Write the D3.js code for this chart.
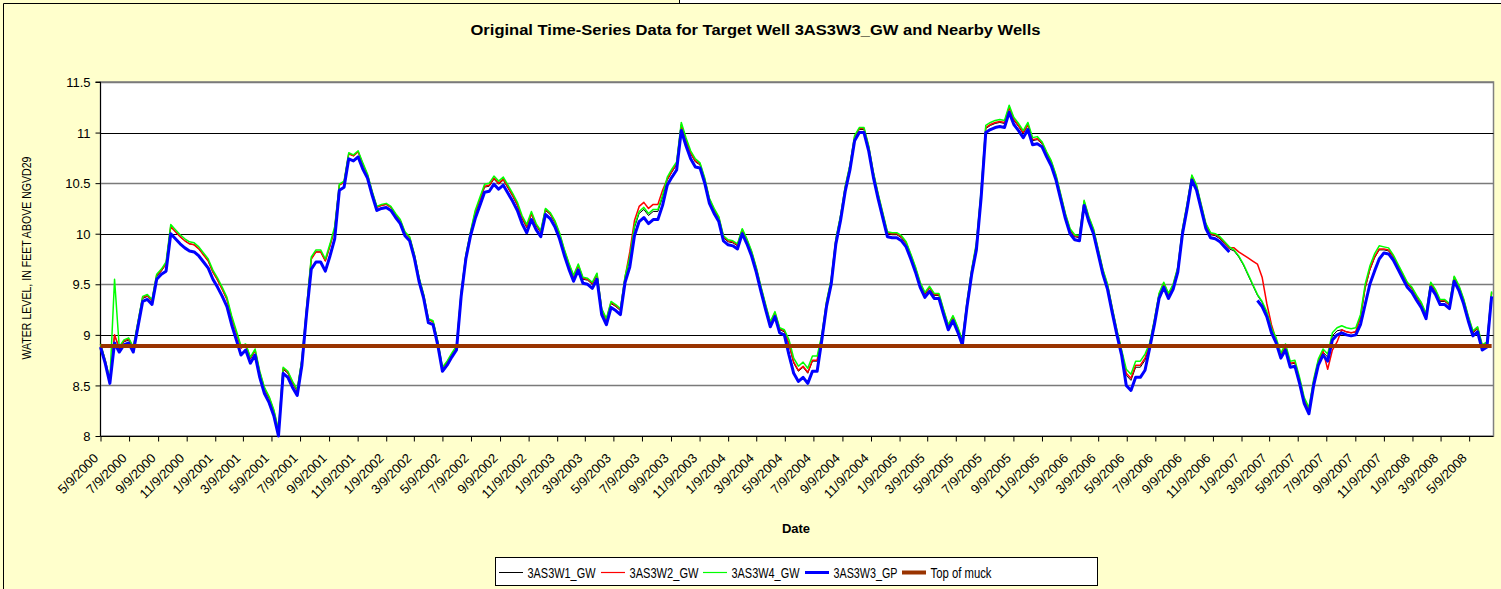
<!DOCTYPE html>
<html>
<head>
<meta charset="utf-8">
<script src="https://cdn.jsdelivr.net/npm/d3@7"></script>
<style>
  body { margin: 0; background: #ffffff; }
  svg { display: block; }
  text { font-family: Arial, "Liberation Sans", sans-serif; fill: #000; }
</style>
</head>
<body>
<svg id="chart" width="1501" height="589"></svg>
<script>
// Daily well records, sampled every 10 days from the first date
const sampleStart = "2000-05-09";
const sampleStepDays = 10;
const axisStart = "2000-05-09";
const axisEnd = "2008-06-30";

const chartTitle = "Original Time-Series Data for Target Well 3AS3W3_GW and Nearby Wells";
const xTitle = "Date";
const yTitle = "WATER LEVEL, IN FEET ABOVE NGVD29";

const tickLabels = [
  "5/9/2000","7/9/2000","9/9/2000","11/9/2000","1/9/2001","3/9/2001","5/9/2001","7/9/2001",
  "9/9/2001","11/9/2001","1/9/2002","3/9/2002","5/9/2002","7/9/2002","9/9/2002","11/9/2002",
  "1/9/2003","3/9/2003","5/9/2003","7/9/2003","9/9/2003","11/9/2003","1/9/2004","3/9/2004",
  "5/9/2004","7/9/2004","9/9/2004","11/9/2004","1/9/2005","3/9/2005","5/9/2005","7/9/2005",
  "9/9/2005","11/9/2005","1/9/2006","3/9/2006","5/9/2006","7/9/2006","9/9/2006","11/9/2006",
  "1/9/2007","3/9/2007","5/9/2007","7/9/2007","9/9/2007","11/9/2007","1/9/2008","3/9/2008",
  "5/9/2008"
];
const yTicks = [8, 8.5, 9, 9.5, 10, 10.5, 11, 11.5];
const yTickLabels = ["8", "8.5", "9", "9.5", "10", "10.5", "11", "11.5"];

const seriesNames = ["3AS3W1_GW", "3AS3W2_GW", "3AS3W4_GW", "3AS3W3_GP", "Top of muck"];
const topOfMuck = 8.89;

const w1 = [
  8.90,8.74,8.54,9.00,8.86,8.93,8.95,8.86,9.11,9.36,
  9.38,9.33,9.58,9.63,9.70,10.07,10.02,9.97,9.93,9.90,
  9.89,9.85,9.79,9.73,9.62,9.54,9.45,9.35,9.17,9.02,
  8.87,8.89,8.76,8.84,8.62,8.46,8.37,8.24,8.04,8.66,
  8.62,8.52,8.44,8.74,9.25,9.75,9.82,9.82,9.73,9.88,
  10.05,10.48,10.51,10.79,10.77,10.81,10.69,10.58,10.41,10.26,
  10.28,10.29,10.26,10.19,10.13,10.01,9.96,9.79,9.56,9.39,
  9.15,9.13,8.93,8.67,8.73,8.81,8.88,9.41,9.78,10.01,
  10.20,10.33,10.46,10.47,10.54,10.49,10.53,10.45,10.37,10.28,
  10.15,10.06,10.19,10.08,10.01,10.23,10.19,10.11,9.99,9.83,
  9.69,9.57,9.68,9.55,9.54,9.50,9.59,9.24,9.14,9.31,
  9.28,9.24,9.56,9.75,10.06,10.20,10.24,10.18,10.22,10.22,
  10.36,10.53,10.61,10.68,11.07,10.92,10.79,10.71,10.68,10.53,
  10.33,10.23,10.15,9.96,9.92,9.91,9.88,10.03,9.93,9.81,
  9.65,9.46,9.28,9.11,9.21,9.05,9.03,8.90,8.72,8.64,
  8.68,8.62,8.74,8.74,8.98,9.31,9.53,9.93,10.16,10.45,
  10.66,10.95,11.03,11.03,10.85,10.59,10.38,10.19,10.00,9.99,
  9.99,9.96,9.90,9.78,9.65,9.50,9.40,9.46,9.39,9.39,
  9.23,9.08,9.17,9.06,8.93,9.31,9.63,9.88,10.39,11.04,
  11.07,11.09,11.10,11.09,11.24,11.12,11.06,10.99,11.07,10.92,
  10.93,10.89,10.79,10.70,10.56,10.37,10.18,10.03,9.97,9.96,
  10.31,10.15,10.03,9.83,9.63,9.48,9.25,9.03,8.83,8.60,
  8.55,8.68,8.68,8.75,8.90,9.13,9.39,9.50,9.39,9.48,
  9.65,10.03,10.28,10.56,10.46,10.27,10.08,9.99,9.98,9.95,
  9.90,9.85,9.83,9.77,9.69,9.59,9.49,9.39,9.32,9.21,
  9.05,8.95,8.80,8.88,8.71,8.72,8.55,8.35,8.25,8.53,
  8.73,8.83,8.78,8.99,9.04,9.05,9.03,9.02,9.03,9.17,
  9.46,9.64,9.76,9.84,9.84,9.83,9.77,9.68,9.59,9.50,
  9.45,9.37,9.30,9.19,9.50,9.43,9.33,9.33,9.29,9.56,
  9.47,9.34,9.17,9.02,9.06,8.88,8.91,9.41
];

const w2 = [
  8.91,8.75,8.55,9.00,8.87,8.94,8.96,8.87,9.12,9.37,
  9.39,9.34,9.59,9.64,9.70,10.07,10.02,9.97,9.93,9.90,
  9.89,9.85,9.79,9.73,9.62,9.54,9.45,9.35,9.17,9.02,
  8.87,8.90,8.77,8.85,8.63,8.47,8.38,8.25,8.05,8.67,
  8.63,8.53,8.45,8.75,9.26,9.75,9.82,9.82,9.73,9.88,
  10.05,10.48,10.51,10.79,10.77,10.81,10.69,10.58,10.41,10.26,
  10.28,10.29,10.26,10.19,10.13,10.01,9.96,9.79,9.56,9.39,
  9.15,9.13,8.93,8.67,8.73,8.81,8.88,9.41,9.78,10.01,
  10.21,10.34,10.47,10.48,10.55,10.50,10.54,10.46,10.38,10.29,
  10.16,10.07,10.20,10.09,10.02,10.24,10.20,10.12,10.00,9.84,
  9.70,9.58,9.69,9.56,9.55,9.51,9.60,9.25,9.15,9.32,
  9.29,9.25,9.57,9.82,10.13,10.27,10.31,10.25,10.29,10.29,
  10.43,10.54,10.62,10.69,11.08,10.93,10.80,10.72,10.69,10.54,
  10.34,10.24,10.16,9.97,9.93,9.92,9.89,10.04,9.94,9.82,
  9.66,9.47,9.29,9.12,9.22,9.06,9.04,8.91,8.73,8.65,
  8.69,8.63,8.75,8.75,8.99,9.32,9.54,9.94,10.17,10.46,
  10.67,10.96,11.04,11.04,10.86,10.60,10.39,10.20,10.01,10.00,
  10.00,9.97,9.91,9.79,9.66,9.51,9.41,9.47,9.40,9.40,
  9.24,9.09,9.18,9.07,8.94,9.32,9.64,9.89,10.40,11.05,
  11.08,11.10,11.11,11.10,11.25,11.13,11.07,11.00,11.08,10.93,
  10.94,10.90,10.80,10.71,10.57,10.38,10.19,10.04,9.98,9.97,
  10.32,10.16,10.04,9.84,9.64,9.49,9.26,9.04,8.84,8.62,
  8.57,8.70,8.70,8.77,8.91,9.14,9.40,9.51,9.40,9.49,
  9.66,10.04,10.29,10.57,10.47,10.28,10.09,10.00,9.99,9.96,
  9.91,9.86,9.86,9.82,9.79,9.76,9.73,9.70,9.57,9.31,
  9.10,8.95,8.81,8.89,8.72,8.73,8.56,8.36,8.26,8.54,
  8.74,8.84,8.66,8.85,8.93,9.05,9.03,9.02,9.03,9.18,
  9.47,9.65,9.77,9.85,9.85,9.84,9.78,9.69,9.60,9.51,
  9.46,9.38,9.31,9.20,9.51,9.44,9.34,9.34,9.30,9.57,
  9.48,9.35,9.18,9.03,9.07,8.89,8.92,9.42
];

const w4 = [
  8.91,8.75,8.55,9.55,8.88,8.95,8.97,8.88,9.13,9.38,
  9.40,9.35,9.60,9.65,9.72,10.09,10.04,9.99,9.95,9.92,
  9.91,9.87,9.81,9.75,9.64,9.56,9.47,9.37,9.19,9.04,
  8.89,8.91,8.78,8.86,8.64,8.48,8.39,8.26,8.06,8.68,
  8.64,8.54,8.46,8.76,9.27,9.77,9.84,9.84,9.75,9.90,
  10.07,10.49,10.52,10.80,10.78,10.82,10.70,10.59,10.42,10.27,
  10.29,10.30,10.27,10.20,10.14,10.02,9.97,9.80,9.57,9.40,
  9.16,9.14,8.94,8.68,8.74,8.82,8.89,9.42,9.79,10.02,
  10.23,10.36,10.49,10.50,10.57,10.52,10.56,10.48,10.40,10.31,
  10.18,10.09,10.22,10.10,10.03,10.25,10.21,10.13,10.01,9.85,
  9.71,9.59,9.70,9.57,9.56,9.52,9.61,9.26,9.16,9.33,
  9.30,9.26,9.58,9.77,10.08,10.22,10.26,10.20,10.24,10.24,
  10.38,10.56,10.64,10.71,11.10,10.95,10.82,10.74,10.70,10.55,
  10.35,10.25,10.17,9.98,9.94,9.93,9.90,10.05,9.95,9.83,
  9.67,9.48,9.30,9.13,9.23,9.07,9.05,8.95,8.77,8.69,
  8.73,8.67,8.79,8.79,9.00,9.33,9.55,9.95,10.18,10.47,
  10.68,10.97,11.05,11.05,10.87,10.61,10.40,10.21,10.02,10.01,
  10.01,9.98,9.92,9.80,9.67,9.52,9.42,9.48,9.41,9.41,
  9.25,9.10,9.19,9.08,8.95,9.33,9.65,9.91,10.42,11.07,
  11.10,11.12,11.13,11.12,11.27,11.15,11.09,11.02,11.10,10.95,
  10.96,10.91,10.81,10.72,10.58,10.39,10.20,10.05,9.99,9.98,
  10.33,10.17,10.05,9.85,9.65,9.50,9.27,9.05,8.85,8.66,
  8.61,8.74,8.74,8.81,8.92,9.15,9.41,9.52,9.41,9.50,
  9.67,10.05,10.30,10.58,10.48,10.29,10.10,10.01,10.00,9.97,
  9.92,9.87,9.84,9.78,9.70,9.60,9.50,9.40,9.33,9.23,
  9.07,8.97,8.82,8.91,8.74,8.75,8.58,8.38,8.28,8.56,
  8.76,8.86,8.81,9.02,9.07,9.09,9.07,9.06,9.07,9.20,
  9.50,9.68,9.80,9.88,9.87,9.86,9.79,9.70,9.61,9.52,
  9.47,9.39,9.32,9.21,9.52,9.45,9.35,9.35,9.31,9.58,
  9.49,9.36,9.19,9.04,9.08,8.90,8.93,9.43
];

// Target well; no record for a stretch in early 2007
const w3gp = [
  8.88,8.72,8.52,8.92,8.83,8.90,8.92,8.83,9.08,9.33,
  9.35,9.30,9.55,9.60,9.63,10.00,9.95,9.90,9.86,9.83,
  9.82,9.78,9.72,9.66,9.55,9.47,9.38,9.28,9.10,8.95,
  8.80,8.85,8.72,8.80,8.58,8.42,8.33,8.20,8.00,8.62,
  8.58,8.48,8.40,8.70,9.21,9.65,9.72,9.72,9.63,9.78,
  9.95,10.43,10.46,10.74,10.72,10.76,10.64,10.55,10.38,10.23,
  10.25,10.26,10.23,10.16,10.10,9.98,9.93,9.76,9.53,9.36,
  9.12,9.10,8.90,8.64,8.70,8.78,8.85,9.38,9.75,9.98,
  10.15,10.28,10.41,10.42,10.49,10.44,10.48,10.40,10.32,10.23,
  10.10,10.01,10.14,10.04,9.97,10.19,10.15,10.07,9.95,9.79,
  9.65,9.53,9.64,9.51,9.50,9.46,9.55,9.20,9.10,9.27,
  9.24,9.20,9.52,9.67,9.98,10.12,10.16,10.10,10.14,10.14,
  10.28,10.48,10.56,10.63,11.02,10.87,10.74,10.66,10.65,10.50,
  10.30,10.20,10.12,9.93,9.89,9.88,9.85,10.00,9.90,9.78,
  9.62,9.43,9.25,9.08,9.18,9.02,9.00,8.80,8.62,8.54,
  8.58,8.52,8.64,8.64,8.95,9.28,9.50,9.90,10.13,10.42,
  10.63,10.92,11.00,11.00,10.82,10.56,10.35,10.16,9.97,9.96,
  9.96,9.93,9.87,9.75,9.62,9.47,9.37,9.43,9.36,9.36,
  9.20,9.05,9.14,9.03,8.90,9.28,9.60,9.84,10.35,11.00,
  11.03,11.05,11.06,11.05,11.20,11.08,11.02,10.95,11.03,10.88,
  10.89,10.86,10.76,10.67,10.53,10.34,10.15,10.00,9.94,9.93,
  10.28,10.12,10.00,9.80,9.60,9.45,9.22,9.00,8.80,8.50,
  8.45,8.58,8.58,8.65,8.87,9.10,9.36,9.47,9.36,9.45,
  9.62,10.00,10.25,10.53,10.43,10.24,10.05,9.96,9.95,9.92,
  9.87,9.82,null,null,null,null,null,9.34,9.28,9.18,
  9.02,8.92,8.77,8.85,8.68,8.69,8.52,8.32,8.22,8.50,
  8.70,8.80,8.74,8.95,9.00,9.02,9.00,8.99,9.00,9.10,
  9.30,9.50,9.63,9.75,9.81,9.80,9.74,9.65,9.56,9.47,
  9.42,9.34,9.27,9.16,9.47,9.40,9.30,9.30,9.26,9.53,
  9.44,9.31,9.14,8.99,9.03,8.85,8.88,9.38
];

const seriesStyles = [
  { values: w1,   color: "#000000", width: 1 },
  { values: w2,   color: "#ff0000", width: 1.5 },
  { values: w4,   color: "#00ff00", width: 1.5 },
  { values: w3gp, color: "#0000ff", width: 3 }
];
const muckStyle = { color: "#993300", width: 4 };

const W = 1501, H = 589;
const plot = { left: 100.5, right: 1493.5, top: 82, bottom: 436 };

const svg = d3.select("#chart");
const parseIso = d3.utcParse("%Y-%m-%d");
const parseTick = d3.utcParse("%m/%d/%Y");

const t0 = parseIso(sampleStart);
const dates = w3gp.map((_, i) => d3.utcDay.offset(t0, i * sampleStepDays));

const x = d3.scaleUtc()
  .domain([parseIso(axisStart), parseIso(axisEnd)])
  .range([plot.left, plot.right]);
const y = d3.scaleLinear()
  .domain([8, 11.5])
  .range([plot.bottom, plot.top]);

// chart area
svg.append("rect").attr("x", 0).attr("y", 0).attr("width", W).attr("height", H).attr("fill", "#ffffcc");
svg.append("rect").attr("x", 679).attr("y", 0).attr("width", W - 679).attr("height", 3).attr("fill", "#ffffff");
svg.append("line").attr("x1", 679.5).attr("x2", 679.5).attr("y1", 0).attr("y2", 3).attr("stroke", "#000");
svg.append("line").attr("x1", 3.5).attr("x2", W).attr("y1", 3.5).attr("y2", 3.5).attr("stroke", "#000");
svg.append("line").attr("x1", 3.5).attr("x2", 3.5).attr("y1", 3.5).attr("y2", H).attr("stroke", "#000");

// plot area
svg.append("rect")
  .attr("x", plot.left).attr("y", plot.top)
  .attr("width", plot.right - plot.left).attr("height", plot.bottom - plot.top)
  .attr("fill", "#ffffff").attr("stroke", "#808080").attr("stroke-width", 1.5);

// horizontal gridlines
svg.append("g").selectAll("line")
  .data(yTicks.filter(v => v > 8))
  .join("line")
  .attr("x1", plot.left).attr("x2", plot.right)
  .attr("y1", d => Math.round(y(d)) + 0.5).attr("y2", d => Math.round(y(d)) + 0.5)
  .attr("stroke", d => (d % 1 === 0) ? "#000000" : "#7a7a7a")
  .attr("stroke-width", d => (d % 1 === 0) ? 1 : 1.6);

// y axis
const yAxis = d3.axisLeft(y)
  .tickValues(yTicks)
  .tickSize(5)
  .tickPadding(5)
  .tickFormat((d, i) => yTickLabels[i]);
const gy = svg.append("g").attr("transform", `translate(${plot.left},0)`).call(yAxis);
gy.select(".domain").attr("stroke", "#000").attr("d", `M-5,${plot.top}H0V${plot.bottom}`);
gy.selectAll(".tick line").attr("stroke", "#000");
gy.selectAll(".tick text").attr("font-size", 13).attr("font-family", "Arial, 'Liberation Sans', sans-serif").attr("dy", "0.36em");

// x axis
const tickDates = tickLabels.map(parseTick);
const xAxis = d3.axisBottom(x)
  .tickValues(tickDates)
  .tickSize(5)
  .tickFormat((d, i) => tickLabels[i]);
const gx = svg.append("g").attr("transform", `translate(0,${plot.bottom + 0.5})`).call(xAxis);
gx.select(".domain").attr("stroke", "#000").attr("d", `M${plot.left},0H${plot.right}`);
gx.selectAll(".tick line").attr("stroke", "#000");
gx.selectAll(".tick text")
  .attr("font-size", 13)
  .attr("font-family", "Arial, 'Liberation Sans', sans-serif")
  .attr("text-anchor", "end")
  .attr("x", 0).attr("y", 0).attr("dy", 0)
  .attr("transform", "translate(-2,22.5) rotate(-45)");

// series lines
const line = d3.line()
  .defined(d => d.v != null)
  .x(d => x(d.t))
  .y(d => y(d.v));

const gLines = svg.append("g");
seriesStyles.forEach(s => {
  const pts = s.values.map((v, i) => ({ t: dates[i], v }));
  gLines.append("path")
    .datum(pts)
    .attr("fill", "none")
    .attr("stroke", s.color)
    .attr("stroke-width", s.width)
    .attr("stroke-linejoin", "round")
    .attr("d", line);
});

// top of muck reference level
const muckPts = [
  { t: dates[0], v: topOfMuck },
  { t: dates[dates.length - 1], v: topOfMuck }
];
gLines.append("path")
  .datum(muckPts)
  .attr("fill", "none")
  .attr("stroke", muckStyle.color)
  .attr("stroke-width", muckStyle.width)
  .attr("d", line);

// titles
svg.append("text")
  .attr("x", 755.5).attr("y", 35)
  .attr("text-anchor", "middle")
  .attr("font-size", 14.5).attr("font-weight", "bold")
  .attr("textLength", 570).attr("lengthAdjust", "spacingAndGlyphs")
  .text(chartTitle);

svg.append("text")
  .attr("x", 796).attr("y", 533)
  .attr("text-anchor", "middle")
  .attr("font-size", 13).attr("font-weight", "bold")
  .text(xTitle);

svg.append("text")
  .attr("transform", "translate(31,258) rotate(-90)")
  .attr("text-anchor", "middle")
  .attr("font-size", 12)
  .attr("textLength", 203).attr("lengthAdjust", "spacingAndGlyphs")
  .text(yTitle);

// legend
const legendItems = [
  { name: seriesNames[0], color: "#000000", width: 1,   x: 499, textW: 68 },
  { name: seriesNames[1], color: "#ff0000", width: 1.2, x: 601, textW: 69 },
  { name: seriesNames[2], color: "#00ff00", width: 1.2, x: 703, textW: 68 },
  { name: seriesNames[3], color: "#0000ff", width: 3,   x: 805, textW: 64 },
  { name: seriesNames[4], color: "#993300", width: 4,   x: 902, textW: 61 }
];
const gLeg = svg.append("g");
gLeg.append("rect")
  .attr("x", 495.5).attr("y", 557.5).attr("width", 602).attr("height", 28)
  .attr("fill", "#ffffff").attr("stroke", "#000").attr("stroke-width", 1);
const li = gLeg.selectAll("g.item").data(legendItems).join("g").attr("class", "item");
li.append("line")
  .attr("x1", d => d.x).attr("x2", d => d.x + 24)
  .attr("y1", 572.5).attr("y2", 572.5)
  .attr("stroke", d => d.color).attr("stroke-width", d => d.width);
li.append("text")
  .attr("x", d => d.x + 28.5).attr("y", 577.5)
  .attr("font-size", 14)
  .attr("textLength", d => d.textW).attr("lengthAdjust", "spacingAndGlyphs")
  .text(d => d.name);
</script>
</body>
</html>
